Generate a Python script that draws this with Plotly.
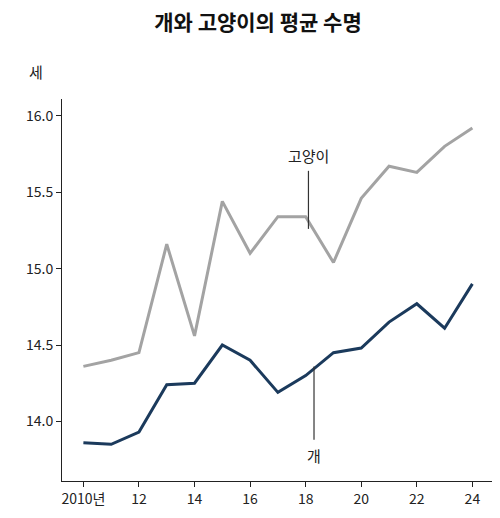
import plotly.graph_objects as go

years = list(range(2010, 2025))
cat = [14.36, 14.40, 14.45, 15.16, 14.56, 15.44, 15.10, 15.34, 15.34, 15.04,
       15.46, 15.67, 15.63, 15.80, 15.92]
dog = [13.86, 13.85, 13.93, 14.24, 14.25, 14.50, 14.40, 14.19, 14.30, 14.45,
       14.48, 14.65, 14.77, 14.61, 14.90]
tick_vals = [2010, 2012, 2014, 2016, 2018, 2020, 2022, 2024]
tick_text = ["2010년", "12", "14", "16", "18", "20", "22", "24"]

font = "Noto Sans CJK KR"

fig = go.Figure()
fig.add_trace(go.Scatter(x=years, y=cat, mode="lines", line=dict(color="#a3a3a3", width=3)))
fig.add_trace(go.Scatter(x=years, y=dog, mode="lines", line=dict(color="#1b3a5c", width=3)))

# leader lines
fig.add_shape(type="line", x0=2018.1, x1=2018.1, y0=15.26, y1=15.64, line=dict(color="#333", width=1.2))
fig.add_shape(type="line", x0=2018.3, x1=2018.3, y0=13.88, y1=14.36, line=dict(color="#333", width=1.2))
fig.add_annotation(x=2018.1, y=15.66, text="고양이", showarrow=False, yanchor="bottom",
                   font=dict(size=15, color="#222", family=font))
fig.add_annotation(x=2018.3, y=13.86, text="개", showarrow=False, yanchor="top",
                   font=dict(size=15, color="#222", family=font))
fig.add_annotation(x=-0.04, xref="paper", y=1.04, yref="paper", text="세", showarrow=False,
                   xanchor="right", yanchor="bottom", font=dict(size=15, color="#222", family=font))

fig.update_layout(
    width=500, height=518, showlegend=False,
    paper_bgcolor="white", plot_bgcolor="white",
    margin=dict(l=54, r=12, t=91, b=45),
    font=dict(family=font, size=14, color="#222"),
    title=dict(text="<b>개와 고양이의 평균 수명</b>", x=0.5, xanchor="center", y=0.985,
               font=dict(size=21, color="#111", family=font)),
    xaxis=dict(range=[2009.23, 2024.85], tickvals=tick_vals, ticktext=tick_text,
               showgrid=False, zeroline=False, showline=True, linecolor="#222",
               ticks="outside", ticklen=5, tickcolor="#222"),
    yaxis=dict(range=[13.61, 16.11], tickvals=[14.0, 14.5, 15.0, 15.5, 16.0],
               tickformat=".1f", showgrid=False, zeroline=False, showline=True,
               linecolor="#222", ticks="outside", ticklen=5, tickcolor="#222"),
)
fig.write_html("out.html")
